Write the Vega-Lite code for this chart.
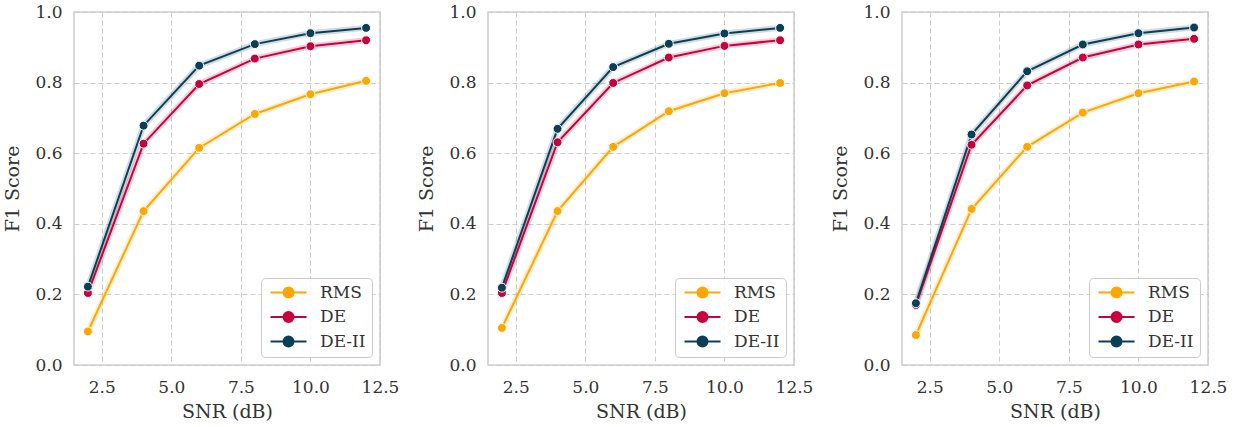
{
  "$schema": "https://vega.github.io/schema/vega-lite/v6.json",
  "background": "white",
  "padding": {"left": 3, "top": 2, "right": 5, "bottom": 5},
  "datasets": {
    "f1": [
      {"panel": 1, "method": "RMS", "snr": 2, "f1": 0.095},
      {"panel": 1, "method": "RMS", "snr": 4, "f1": 0.436},
      {"panel": 1, "method": "RMS", "snr": 6, "f1": 0.615},
      {"panel": 1, "method": "RMS", "snr": 8, "f1": 0.711},
      {"panel": 1, "method": "RMS", "snr": 10, "f1": 0.767},
      {"panel": 1, "method": "RMS", "snr": 12, "f1": 0.805},
      {"panel": 1, "method": "DE", "snr": 2, "f1": 0.204},
      {"panel": 1, "method": "DE", "snr": 4, "f1": 0.627},
      {"panel": 1, "method": "DE", "snr": 6, "f1": 0.796},
      {"panel": 1, "method": "DE", "snr": 8, "f1": 0.868},
      {"panel": 1, "method": "DE", "snr": 10, "f1": 0.903},
      {"panel": 1, "method": "DE", "snr": 12, "f1": 0.920},
      {"panel": 1, "method": "DE-II", "snr": 2, "f1": 0.222},
      {"panel": 1, "method": "DE-II", "snr": 4, "f1": 0.678},
      {"panel": 1, "method": "DE-II", "snr": 6, "f1": 0.848},
      {"panel": 1, "method": "DE-II", "snr": 8, "f1": 0.909},
      {"panel": 1, "method": "DE-II", "snr": 10, "f1": 0.940},
      {"panel": 1, "method": "DE-II", "snr": 12, "f1": 0.955},
      {"panel": 2, "method": "RMS", "snr": 2, "f1": 0.105},
      {"panel": 2, "method": "RMS", "snr": 4, "f1": 0.436},
      {"panel": 2, "method": "RMS", "snr": 6, "f1": 0.618},
      {"panel": 2, "method": "RMS", "snr": 8, "f1": 0.719},
      {"panel": 2, "method": "RMS", "snr": 10, "f1": 0.770},
      {"panel": 2, "method": "RMS", "snr": 12, "f1": 0.799},
      {"panel": 2, "method": "DE", "snr": 2, "f1": 0.204},
      {"panel": 2, "method": "DE", "snr": 4, "f1": 0.631},
      {"panel": 2, "method": "DE", "snr": 6, "f1": 0.799},
      {"panel": 2, "method": "DE", "snr": 8, "f1": 0.871},
      {"panel": 2, "method": "DE", "snr": 10, "f1": 0.904},
      {"panel": 2, "method": "DE", "snr": 12, "f1": 0.920},
      {"panel": 2, "method": "DE-II", "snr": 2, "f1": 0.219},
      {"panel": 2, "method": "DE-II", "snr": 4, "f1": 0.669},
      {"panel": 2, "method": "DE-II", "snr": 6, "f1": 0.844},
      {"panel": 2, "method": "DE-II", "snr": 8, "f1": 0.910},
      {"panel": 2, "method": "DE-II", "snr": 10, "f1": 0.939},
      {"panel": 2, "method": "DE-II", "snr": 12, "f1": 0.955},
      {"panel": 3, "method": "RMS", "snr": 2, "f1": 0.085},
      {"panel": 3, "method": "RMS", "snr": 4, "f1": 0.442},
      {"panel": 3, "method": "RMS", "snr": 6, "f1": 0.618},
      {"panel": 3, "method": "RMS", "snr": 8, "f1": 0.715},
      {"panel": 3, "method": "RMS", "snr": 10, "f1": 0.770},
      {"panel": 3, "method": "RMS", "snr": 12, "f1": 0.803},
      {"panel": 3, "method": "DE", "snr": 2, "f1": 0.170},
      {"panel": 3, "method": "DE", "snr": 4, "f1": 0.624},
      {"panel": 3, "method": "DE", "snr": 6, "f1": 0.792},
      {"panel": 3, "method": "DE", "snr": 8, "f1": 0.871},
      {"panel": 3, "method": "DE", "snr": 10, "f1": 0.908},
      {"panel": 3, "method": "DE", "snr": 12, "f1": 0.924},
      {"panel": 3, "method": "DE-II", "snr": 2, "f1": 0.175},
      {"panel": 3, "method": "DE-II", "snr": 4, "f1": 0.653},
      {"panel": 3, "method": "DE-II", "snr": 6, "f1": 0.832},
      {"panel": 3, "method": "DE-II", "snr": 8, "f1": 0.908},
      {"panel": 3, "method": "DE-II", "snr": 10, "f1": 0.940},
      {"panel": 3, "method": "DE-II", "snr": 12, "f1": 0.956}
    ]
  },
  "data": {"name": "f1"},
  "spacing": 108,
  "bounds": "flush",
  "resolve": {"scale": {"color": "shared"}, "legend": {"color": "independent"}},
  "hconcat": [
    {
      "width": 306, "height": 353,
      "transform": [{"filter": "datum.panel == 1"}],
      "encoding": {
        "x": {"field": "snr", "type": "quantitative", "title": "SNR (dB)", "scale": {"domain": [1.5, 12.5], "nice": false, "zero": false}, "axis": {"values": [2.5, 5, 7.5, 10, 12.5], "format": ".1f"}},
        "y": {"field": "f1", "type": "quantitative", "title": "F1 Score", "scale": {"domain": [0, 1], "nice": false}, "axis": {"values": [0, 0.2, 0.4, 0.6, 0.8, 1.0], "format": ".1f"}},
        "color": {"field": "method", "type": "nominal", "sort": ["RMS", "DE", "DE-II"], "scale": {"domain": ["RMS", "DE", "DE-II"], "range": ["#ffa600", "#c8003c", "#0a3f58"]}}
      },
      "layer": [
        {"mark": {"type": "line", "strokeWidth": 6, "opacity": 0.18}},
        {"mark": {"type": "line", "strokeWidth": 2}},
        {"mark": {"type": "point", "filled": true, "size": 80, "opacity": 1, "stroke": "white", "strokeWidth": 1}}
      ]
    },
    {
      "width": 306, "height": 353,
      "transform": [{"filter": "datum.panel == 2"}],
      "encoding": {
        "x": {"field": "snr", "type": "quantitative", "title": "SNR (dB)", "scale": {"domain": [1.5, 12.5], "nice": false, "zero": false}, "axis": {"values": [2.5, 5, 7.5, 10, 12.5], "format": ".1f"}},
        "y": {"field": "f1", "type": "quantitative", "title": "F1 Score", "scale": {"domain": [0, 1], "nice": false}, "axis": {"values": [0, 0.2, 0.4, 0.6, 0.8, 1.0], "format": ".1f"}},
        "color": {"field": "method", "type": "nominal", "sort": ["RMS", "DE", "DE-II"], "scale": {"domain": ["RMS", "DE", "DE-II"], "range": ["#ffa600", "#c8003c", "#0a3f58"]}}
      },
      "layer": [
        {"mark": {"type": "line", "strokeWidth": 6, "opacity": 0.18}},
        {"mark": {"type": "line", "strokeWidth": 2}},
        {"mark": {"type": "point", "filled": true, "size": 80, "opacity": 1, "stroke": "white", "strokeWidth": 1}}
      ]
    },
    {
      "width": 306, "height": 353,
      "transform": [{"filter": "datum.panel == 3"}],
      "encoding": {
        "x": {"field": "snr", "type": "quantitative", "title": "SNR (dB)", "scale": {"domain": [1.5, 12.5], "nice": false, "zero": false}, "axis": {"values": [2.5, 5, 7.5, 10, 12.5], "format": ".1f"}},
        "y": {"field": "f1", "type": "quantitative", "title": "F1 Score", "scale": {"domain": [0, 1], "nice": false}, "axis": {"values": [0, 0.2, 0.4, 0.6, 0.8, 1.0], "format": ".1f"}},
        "color": {"field": "method", "type": "nominal", "sort": ["RMS", "DE", "DE-II"], "scale": {"domain": ["RMS", "DE", "DE-II"], "range": ["#ffa600", "#c8003c", "#0a3f58"]}}
      },
      "layer": [
        {"mark": {"type": "line", "strokeWidth": 6, "opacity": 0.18}},
        {"mark": {"type": "line", "strokeWidth": 2}},
        {"mark": {"type": "point", "filled": true, "size": 80, "opacity": 1, "stroke": "white", "strokeWidth": 1}}
      ]
    }
  ],
  "config": {
    "font": "DejaVu Serif",
    "view": {"stroke": "#d0d0d0", "strokeWidth": 1.6},
    "axis": {
      "domain": false,
      "ticks": false,
      "grid": true,
      "labelFlush": false,
      "gridColor": "#cccccc",
      "gridDash": [5, 3],
      "gridWidth": 1,
      "labelFont": "DejaVu Serif",
      "labelFontSize": 17,
      "labelColor": "#333333",
      "titleFont": "DejaVu Serif",
      "titleFontSize": 19,
      "titleFontWeight": "normal",
      "titleColor": "#333333"
    },
    "axisX": {"labelPadding": 14, "titlePadding": 7},
    "axisY": {"labelPadding": 12, "titlePadding": 12},
    "legend": {
      "orient": "bottom-right",
      "offset": 8,
      "title": null,
      "strokeColor": "#cccccc",
      "fillColor": "rgba(255,255,255,0.85)",
      "cornerRadius": 4,
      "padding": 6,
      "labelFont": "DejaVu Serif",
      "labelFontSize": 17,
      "labelColor": "#333333",
      "labelOffset": 23,
      "rowPadding": 5.5,
      "symbolType": "M-3.6,0L3.6,0M-1,0A1,1,0,1,0,1,0A1,1,0,1,0,-1,0Z",
      "symbolSize": 100,
      "symbolStrokeWidth": 2,
      "symbolOpacity": 1,
      "symbolOffset": 13
    }
  }
}
